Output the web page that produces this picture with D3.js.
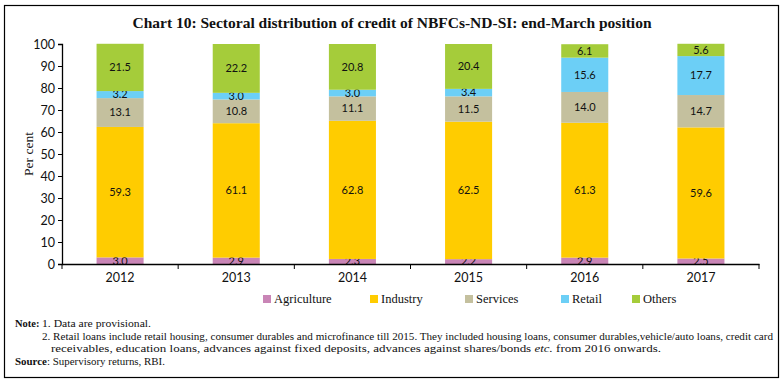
<!DOCTYPE html>
<html>
<head>
<meta charset="utf-8">
<script src="https://cdn.jsdelivr.net/npm/d3@7"></script>
<style>
  body { margin: 0; background: #fff; }
  svg { display: block; }
  .tick text { font-family: Lato, "Liberation Sans", sans-serif; font-size: 12.5px; fill: #111; }
  .serif { font-family: "Liberation Serif", "DejaVu Serif", serif; fill: #111; }
</style>
</head>
<body>
<div id="chart"></div>
<script>
// data
var years = ["2012", "2013", "2014", "2015", "2016", "2017"];
var sectors = ["Agriculture", "Industry", "Services", "Retail", "Others"];
var agriculture = [3.0, 2.9, 2.3, 2.2, 2.9, 2.5];
var industry = [59.3, 61.1, 62.8, 62.5, 61.3, 59.6];
var services = [13.1, 10.8, 11.1, 11.5, 14.0, 14.7];
var retail = [3.2, 3.0, 3.0, 3.4, 15.6, 17.7];
var others = [21.5, 22.2, 20.8, 20.4, 6.1, 5.6];
var yTicks = [0, 10, 20, 30, 40, 50, 60, 70, 80, 90, 100];

var colors = ["#c985b6", "#ffcc00", "#c4c09e", "#6ccff6", "#a5cc3a"];

var svgWidth = 783;
var svgHeight = 383;

var margin = { top: 44, right: 24, bottom: 119, left: 62 };
var width = svgWidth - margin.left - margin.right;
var height = svgHeight - margin.top - margin.bottom;

var svg = d3.select("#chart")
    .append("svg")
    .attr("width", svgWidth)
    .attr("height", svgHeight);

// outer frame
svg.append("rect")
    .attr("x", 4.5).attr("y", 5.5)
    .attr("width", 774).attr("height", 372)
    .attr("fill", "none")
    .attr("stroke", "#000")
    .attr("stroke-width", 1.2);

svg.append("text")
    .attr("class", "serif")
    .attr("x", 392).attr("y", 28)
    .attr("text-anchor", "middle")
    .attr("font-weight", "bold")
    .attr("font-size", "15.5px")
    .text("Chart 10: Sectoral distribution of credit of NBFCs-ND-SI: end-March position");

var chartGroup = svg.append("g")
    .attr("transform", `translate(${margin.left}, ${margin.top})`);

// build table for stacking
var table = years.map(function(y, i) {
    return {
        year: y,
        Agriculture: agriculture[i],
        Industry: industry[i],
        Services: services[i],
        Retail: retail[i],
        Others: others[i]
    };
});

var stack = d3.stack().keys(sectors);
var series = stack(table);

var xScale = d3.scaleBand()
    .domain(years)
    .range([0, width])
    .paddingInner(0.595)
    .paddingOuter(0.2975);

var yScale = d3.scaleLinear()
    .domain([0, 100])
    .range([height, 0]);

var color = d3.scaleOrdinal().domain(sectors).range(colors);

// bars
var layers = chartGroup.selectAll(".layer")
    .data(series)
    .enter()
    .append("g")
    .attr("class", "layer")
    .attr("fill", d => color(d.key));

layers.selectAll("rect")
    .data(d => d)
    .enter()
    .append("rect")
    .attr("x", d => xScale(d.data.year))
    .attr("y", d => yScale(d[1]))
    .attr("width", xScale.bandwidth())
    .attr("height", d => yScale(d[0]) - yScale(d[1]));

// labels
layers.selectAll("text")
    .data(d => d)
    .enter()
    .append("text")
    .attr("x", d => xScale(d.data.year) + xScale.bandwidth() / 2)
    .attr("y", d => yScale((d[0] + d[1]) / 2))
    .attr("dy", "0.35em")
    .attr("text-anchor", "middle")
    .attr("fill", "#111")
    .attr("font-family", "Lato, 'Liberation Sans', sans-serif")
    .attr("font-size", "11px")
    .text(d => (d[1] - d[0]).toFixed(1));

// axes
var bottomAxis = d3.axisBottom(xScale).tickSize(0).tickPadding(9);
var leftAxis = d3.axisLeft(yScale).tickValues(yTicks).tickSize(4).tickPadding(3);

var xAxis = chartGroup.append("g")
    .attr("transform", `translate(0, ${height})`)
    .call(bottomAxis);
xAxis.select(".domain").attr("stroke", "#000").attr("stroke-width", 1.3);

// boundary ticks between categories
xAxis.selectAll(".sep")
    .data(d3.range(years.length + 1))
    .enter()
    .append("line")
    .attr("class", "sep")
    .attr("x1", i => i * width / years.length)
    .attr("x2", i => i * width / years.length)
    .attr("y1", 0).attr("y2", 5)
    .attr("stroke", "#000");

var yAxis = chartGroup.append("g").call(leftAxis);
yAxis.select(".domain").attr("stroke", "#000").attr("stroke-width", 1.3);

svg.append("text")
    .attr("class", "serif")
    .attr("transform", "translate(33, 154) rotate(-90)")
    .attr("text-anchor", "middle")
    .attr("font-size", "13.5px")
    .text("Per cent");

// legend
var legendX = [263, 370, 465, 561, 632];
var legend = svg.selectAll(".legend")
    .data(sectors)
    .enter()
    .append("g")
    .attr("class", "legend")
    .attr("transform", (d, i) => `translate(${legendX[i]}, 299)`);

legend.append("rect")
    .attr("x", 0).attr("y", -4)
    .attr("width", 8).attr("height", 8)
    .attr("fill", d => color(d));

legend.append("text")
    .attr("class", "serif")
    .attr("x", 11)
    .attr("dy", "0.35em")
    .attr("font-size", "12.5px")
    .text(d => d);

// notes
var notes = svg.append("g").attr("class", "serif").attr("font-size", "10.5px");
notes.append("text").attr("x", 15).attr("y", 327).attr("font-weight", "bold").text("Note:");
notes.append("text").attr("x", 42).attr("y", 327)
    .attr("textLength", 109).attr("lengthAdjust", "spacingAndGlyphs")
    .text("1. Data are provisional.");
notes.append("text").attr("x", 42).attr("y", 340)
    .attr("textLength", 731).attr("lengthAdjust", "spacingAndGlyphs")
    .text("2. Retail loans include retail housing, consumer durables and microfinance till 2015. They included housing loans, consumer durables,vehicle/auto loans, credit card");
var l3 = notes.append("text").attr("x", 51).attr("y", 352)
    .attr("textLength", 610).attr("lengthAdjust", "spacingAndGlyphs");
l3.append("tspan").text("receivables, education loans, advances against fixed deposits, advances against shares/bonds ");
l3.append("tspan").attr("font-style", "italic").text("etc.");
l3.append("tspan").text(" from 2016 onwards.");
var src = notes.append("text").attr("x", 15).attr("y", 365)
    .attr("textLength", 150).attr("lengthAdjust", "spacingAndGlyphs");
src.append("tspan").attr("font-weight", "bold").text("Source");
src.append("tspan").text(": Supervisory returns, RBI.");
</script>
</body>
</html>
